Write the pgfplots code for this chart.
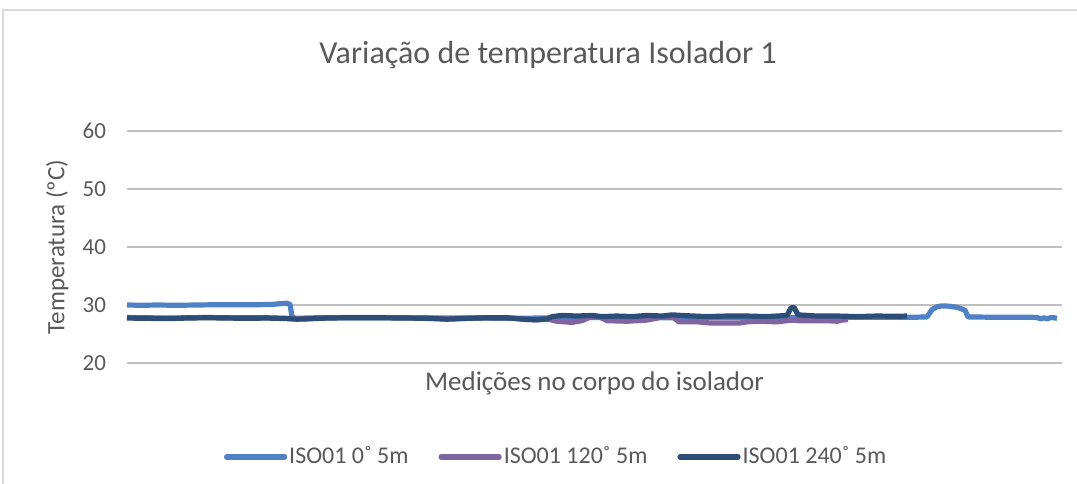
\documentclass[border=0pt]{standalone}
\usepackage{pgfplots}
\pgfplotsset{compat=1.18}
\usepackage{fontspec}
\setmainfont{Carlito}
\definecolor{sblue}{HTML}{4F81C4}
\definecolor{spurple}{HTML}{8064A2}
\definecolor{sdark}{HTML}{2C4D75}
\definecolor{txt}{HTML}{595959}
\definecolor{grid}{HTML}{D9D9D9}
\pgfplotstableread{
x y
0 30.0
15 29.95
30 30.0
50 29.95
70 30.0
90 30.05
110 30.05
130 30.05
145 30.1
155 30.25
160 30.3
163 30.1
165 28.0
168 27.7
190 27.8
230 27.8
270 27.8
310 27.75
350 27.75
390 27.7
430 27.8
470 27.85
510 27.85
550 27.8
600 27.85
650 27.85
700 27.9
750 27.9
790 27.9
800 27.95
805 29.2
810 29.7
815 29.85
822 29.8
830 29.6
835 29.3
838 29.1
841 27.95
860 27.9
880 27.9
900 27.9
910 27.85
914 27.6
917 27.8
920 27.6
924 27.85
927 27.8
930 27.7
}\blue
\pgfplotstableread{
x y
0 27.85
20 27.8
40 27.75
60 27.8
80 27.85
100 27.8
120 27.8
140 27.8
160 27.7
170 27.6
180 27.65
200 27.8
220 27.85
250 27.85
280 27.8
300 27.75
320 27.6
340 27.7
360 27.8
380 27.8
400 27.5
410 27.45
420 27.6
430 27.2
445 27.0
455 27.3
463 27.9
473 27.9
480 27.3
500 27.2
520 27.4
535 27.9
546 27.9
552 27.1
570 27.1
583 26.9
600 26.9
613 26.9
620 27.1
633 27.2
650 27.1
660 27.3
665 27.4
672 27.3
690 27.3
700 27.3
710 27.2
715 27.4
721 27.5
}\purple
\pgfplotstableread{
x y
0 27.75
20 27.7
40 27.65
60 27.75
80 27.8
100 27.75
120 27.7
140 27.75
160 27.65
170 27.55
180 27.6
200 27.75
220 27.8
250 27.8
280 27.75
300 27.7
320 27.55
340 27.7
360 27.8
380 27.8
400 27.5
410 27.45
420 27.6
425 28.0
435 28.2
450 28.1
465 28.2
475 28.0
490 28.1
505 28.0
520 28.2
535 28.1
545 28.3
560 28.15
580 28.0
600 28.1
620 28.1
640 28.0
660 28.2
664 29.5
667 29.6
671 28.3
690 28.1
710 28.1
730 28.0
750 28.1
770 28.05
780 28.1
}\dark
\begin{document}
\begin{tikzpicture}
\useasboundingbox (0,0) rectangle (538.5pt,241.5pt);
\draw[grid,line width=0.6pt] (1.5pt,-10pt) -- (1.5pt,236.5pt) -- (560pt,236.5pt);
\node[text=txt,font=\fontsize{16}{19}\selectfont] at (274pt,214pt) {Variação de temperatura Isolador 1};
\begin{axis}[
  at={(63.5pt,60pt)}, anchor=south west,
  scale only axis, width=467.5pt, height=116pt,
  xmin=0, xmax=935, ymin=20, ymax=60,
  ytick={20,30,40,50,60},
  xtick=\empty,
  axis line style={draw=none},
  ymajorgrids, grid style={grid, line width=0.6pt},
  major tick length=0pt,
  /pgf/number format/assume math mode=true,
  tick label style={text=txt, font=\fontsize{11.5}{13}\selectfont},
  yticklabel style={xshift=-7pt},
  ylabel={Temperatura (ºC)},
  ylabel style={text=txt, font=\fontsize{12.5}{14}\selectfont, at={(axis description cs:-0.055,0.5)}},
  xlabel={Medições no corpo do isolador},
  xlabel style={text=txt, font=\fontsize{13.5}{15}\selectfont, at={(axis description cs:0.5,-0.09)}, anchor=center},
  legend columns=3,
  legend style={draw=none, at={(0.459,-0.405)}, anchor=center, font=\fontsize{12}{14}\selectfont, text=txt,
    /tikz/every even column/.append style={column sep=14pt},
    nodes={inner xsep=1pt}},
  legend image code/.code={\draw[#1, line width=2.6pt, line cap=round] (0pt,0pt) -- (29pt,0pt);},
  clip=false,
]
\addplot[sblue, line width=2.6pt, line join=round] table[x=x,y=y] {\blue};
\addlegendentry{ISO01 0˚ 5m}
\addplot[spurple, line width=2.6pt, line join=round] table[x=x,y=y] {\purple};
\addlegendentry{ISO01 120˚ 5m}
\addplot[sdark, line width=2.6pt, line join=round] table[x=x,y=y] {\dark};
\addlegendentry{ISO01 240˚ 5m}
\end{axis}
\end{tikzpicture}
\end{document}
